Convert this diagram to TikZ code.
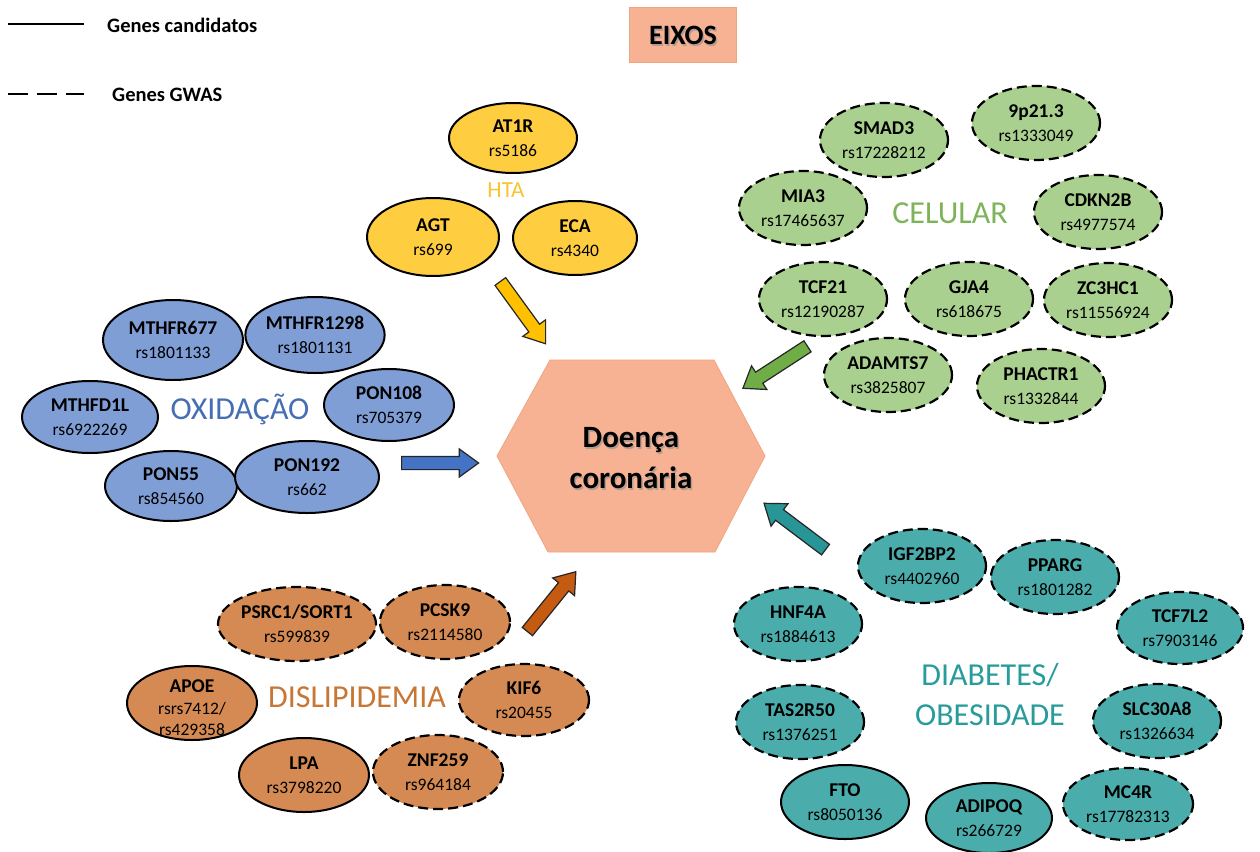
\documentclass[tikz,border=0pt]{standalone}
\usepackage{fontspec}
\setmainfont{Carlito}
\usetikzlibrary{shapes.geometric,shapes.arrows}

% fills and label colours of the five axes
\definecolor{htaF}{RGB}{255,205,64}
\definecolor{htaT}{RGB}{247,196,50}
\definecolor{htaA}{RGB}{255,192,0}
\definecolor{celF}{RGB}{169,208,142}
\definecolor{celT}{RGB}{125,180,90}
\definecolor{celA}{RGB}{112,173,71}
\definecolor{oxiF}{RGB}{128,158,214}
\definecolor{oxiT}{RGB}{70,110,180}
\definecolor{oxiA}{RGB}{68,114,196}
\definecolor{dlpF}{RGB}{212,138,82}
\definecolor{dlpT}{RGB}{200,118,52}
\definecolor{dlpA}{RGB}{197,90,17}
\definecolor{diaF}{RGB}{75,172,172}
\definecolor{diaT}{RGB}{40,155,155}
\definecolor{diaA}{RGB}{40,150,150}
\definecolor{coreF}{RGB}{247,178,148}
\definecolor{coreB}{RGB}{240,165,128}

% gene name in bold over its SNP
\newcommand{\genetxt}[2]{{\bfseries\fontsize{19.5}{24}\selectfont #1}\\#2}

\tikzset{
  gene/.style={ellipse, draw=black, line width=2pt, minimum width=128pt,
    minimum height=74pt, inner sep=0pt, align=center,
    font=\fontsize{17.5}{24}\selectfont},
  gwas/.style={gene, line width=2.2pt, dash pattern=on 10pt off 5pt},
  axislabel/.style={font=\fontsize{32}{40}\selectfont, align=center, inner sep=0pt},
  legendtext/.style={font=\bfseries\fontsize{20.5}{24}\selectfont, inner sep=0pt, anchor=west},
  blockarrow/.style={single arrow, draw=black!85, line width=1.2pt,
    minimum height=77pt, minimum width=0pt, inner xsep=0pt, inner ysep=6pt,
    single arrow head extend=7.5pt, single arrow tip angle=72,
    single arrow head indent=0pt, anchor=tail},
}

\begin{document}
\begin{tikzpicture}[x=1pt,y=-1pt]
\useasboundingbox (0,0) rectangle (1260,851);
\fill[white] (0,0) rectangle (1260,851);

% legend
\coordinate (ls1) at (8,24);
\coordinate (ls2) at (84,24);
\draw[line width=1.8pt] (ls1) -- (ls2);
\node[legendtext] (lgc) at (107,25) {Genes candidatos};
\coordinate (ld1) at (8,94);
\coordinate (ld2) at (84,94);
\draw[line width=1.8pt, dash pattern=on 20pt off 9pt] (ld1) -- (ld2);
\node[legendtext] (lgg) at (112,95) {Genes GWAS};

% title box
\node[draw=coreB, fill=coreF, line width=1pt, minimum width=107pt, minimum height=55pt] (eixos) at (683,35) {};
\node[font=\bfseries\fontsize{28}{30}\selectfont, text=black!45, opacity=0.6] (eixosS) at (684.5,37) {EIXOS};
\node[font=\bfseries\fontsize{28}{30}\selectfont] (eixosT) at (683,35) {EIXOS};

% central hexagon
\coordinate (h1) at (550,360);
\coordinate (h2) at (714,360);
\coordinate (h3) at (765,456);
\coordinate (h4) at (715,552);
\coordinate (h5) at (548,552);
\coordinate (h6) at (497,456);
\draw[fill=coreF, draw=coreB, line width=0.8pt] (h1) -- (h2) -- (h3) -- (h4) -- (h5) -- (h6) -- cycle;
\node[font=\bfseries\fontsize{31}{41}\selectfont, align=center, text=black!45, opacity=0.6] (coreS) at (632.5,460) {Doença\\coronária};
\node[font=\bfseries\fontsize{31}{41}\selectfont, align=center] (core) at (631,458) {Doença\\coronária};

% HTA
\node[gene, fill=htaF, minimum height=70pt] (at1r) at (513,138) {\genetxt{AT1R}{rs5186}};
\node[gene, fill=htaF, minimum width=132pt, minimum height=78pt] (agt) at (433,237) {\genetxt{AGT}{rs699}};
\node[gene, fill=htaF, minimum width=124pt] (eca) at (575,238) {\genetxt{ECA}{rs4340}};
\node[axislabel, font=\fontsize{23}{26}\selectfont, text=htaT] (htaL) at (506,190) {HTA};
\node[blockarrow, fill=htaA, rotate=-54] (htaArrow) at (500,281) {};

% CELULAR
\node[gwas, fill=celF] (smad3) at (884,140) {\genetxt{SMAD3}{rs17228212}};
\node[gwas, fill=celF] (p213) at (1036,123) {\genetxt{9p21.3}{rs1333049}};
\node[gwas, fill=celF] (mia3) at (803,208) {\genetxt{MIA3}{rs17465637}};
\node[gwas, fill=celF] (cdkn2b) at (1098,212) {\genetxt{CDKN2B}{rs4977574}};
\node[gwas, fill=celF] (tcf21) at (823,299) {\genetxt{TCF21}{rs12190287}};
\node[gwas, fill=celF] (gja4) at (969,299) {\genetxt{GJA4}{rs618675}};
\node[gwas, fill=celF] (zc3hc1) at (1108,300) {\genetxt{ZC3HC1}{rs11556924}};
\node[gwas, fill=celF] (adamts7) at (888,375) {\genetxt{ADAMTS7}{rs3825807}};
\node[gwas, fill=celF] (phactr1) at (1041,386) {\genetxt{PHACTR1}{rs1332844}};
\node[axislabel, text=celT] (celL) at (950,213) {CELULAR};
\node[blockarrow, fill=celA, rotate=213] (celArrow) at (808,346) {};

% OXIDACAO
\node[gene, fill=oxiF, minimum width=140pt, minimum height=80pt] (mthfr677) at (173,340) {\genetxt{MTHFR677}{rs1801133}};
\node[gene, fill=oxiF, minimum width=132pt, minimum height=76pt] (mthfr1298) at (315,335) {\genetxt{MTHFR1298}{rs1801131}};
\node[gene, fill=oxiF, minimum width=136pt, minimum height=72pt] (mthfd1l) at (90,417) {\genetxt{MTHFD1L}{rs6922269}};
\node[gene, fill=oxiF, minimum width=130pt, minimum height=72pt] (pon108) at (389,405) {\genetxt{PON108}{rs705379}};
\node[gene, fill=oxiF, minimum width=132pt, minimum height=70pt] (pon55) at (171,486) {\genetxt{PON55}{rs854560}};
\node[gene, fill=oxiF, minimum width=144pt, minimum height=72pt] (pon192) at (307,477) {\genetxt{PON192}{rs662}};
\node[axislabel, text=oxiT] (oxiL) at (240,409) {OXIDAÇÃO};
\node[blockarrow, fill=oxiA, rotate=0] (oxiArrow) at (401,463) {};

% DISLIPIDEMIA
\node[gwas, fill=dlpF, minimum width=132pt] (psrc1) at (297,624) {\genetxt{PSRC1/SORT1}{rs599839}};
\node[gwas, fill=dlpF, minimum width=130pt] (pcsk9) at (445,622) {\genetxt{PCSK9}{rs2114580}};
\node[gene, fill=dlpF, minimum width=130pt] (apoe) at (192,703) {};
\node[font=\fontsize{17.5}{21.5}\selectfont, align=center, inner sep=0pt] (apoeT) at (192,708) {{\bfseries\fontsize{19.5}{21.5}\selectfont APOE}\\rsrs7412/\\rs429358};
\node[gwas, fill=dlpF, minimum width=130pt, minimum height=72pt] (kif6) at (524,700) {\genetxt{KIF6}{rs20455}};
\node[gene, fill=dlpF, minimum width=130pt] (lpa) at (304,775) {\genetxt{LPA}{rs3798220}};
\node[gwas, fill=dlpF, minimum width=130pt] (znf259) at (438,772) {\genetxt{ZNF259}{rs964184}};
\node[axislabel, text=dlpT] (dlpL) at (357,697) {DISLIPIDEMIA};
\node[blockarrow, fill=dlpA, rotate=51] (dlpArrow) at (527,632) {};

% DIABETES / OBESIDADE
\node[gwas, fill=diaF] (igf2bp2) at (922,566) {\genetxt{IGF2BP2}{rs4402960}};
\node[gwas, fill=diaF] (pparg) at (1055,577) {\genetxt{PPARG}{rs1801282}};
\node[gwas, fill=diaF] (hnf4a) at (798,624) {\genetxt{HNF4A}{rs1884613}};
\node[gwas, fill=diaF, minimum width=126pt, minimum height=72pt] (tcf7l2) at (1180,628) {\genetxt{TCF7L2}{rs7903146}};
\node[gwas, fill=diaF] (tas2r50) at (800,722) {\genetxt{TAS2R50}{rs1376251}};
\node[gwas, fill=diaF] (slc30a8) at (1157,721) {\genetxt{SLC30A8}{rs1326634}};
\node[gene, fill=diaF] (fto) at (845,802) {\genetxt{FTO}{rs8050136}};
\node[gene, fill=diaF, minimum width=126pt, minimum height=70pt] (adipoq) at (989,818) {\genetxt{ADIPOQ}{rs266729}};
\node[gwas, fill=diaF, minimum width=130pt, minimum height=72pt] (mc4r) at (1128,804) {\genetxt{MC4R}{rs17782313}};
\node[axislabel, text=diaT] (diaL) at (990,694) {DIABETES/\\OBESIDADE};
\node[blockarrow, fill=diaA, rotate=143] (diaArrow) at (826,550) {};
\end{tikzpicture}
\end{document}
